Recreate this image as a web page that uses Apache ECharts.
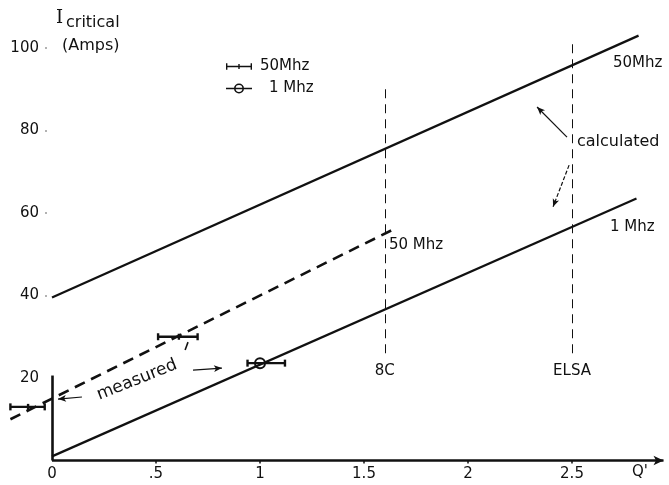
<!DOCTYPE html>
<html><head><meta charset="utf-8">
<script src="https://cdn.jsdelivr.net/npm/echarts@6/dist/echarts.min.js"></script>
<style>html,body{margin:0;padding:0;background:#fff}#c{width:669px;height:485px}</style>
</head><body><div id="c"></div>
<script>
// ---- data ----
const xTicks = [0, 0.5, 1, 1.5, 2, 2.5];
const xTickLabels = ['0', '.5', '1', '1.5', '2', '2.5'];
const yTicks = [20, 40, 60, 80, 100];
const yTickLabels = ['20', '40', '60', '80', '100'];
const seriesNames = ['50Mhz', '1 Mhz'];
const calc50Line = [[0, 39.5], [2.82, 103]];
const calc1Line = [[0, 1], [2.81, 63.5]];
const meas50Line = [[-0.2, 10], [1.64, 56]];
// measured points: [Q', I, Q' low, Q' high]
const meas50Points = [[-0.115, 13, -0.2, -0.035], [0.61, 30, 0.51, 0.70]];
const meas1Points = [[1.0, 23.6, 0.94, 1.12]];
const machines = ['8C', 'ELSA'];
const machineQ = [1.6, 2.5];
const machineTop = [90, 101.5];
const machineBottom = 26;
const calcArrows = [[[2.476, 78.4], [2.332, 85.7]], [[2.486, 71.6], [2.409, 61.5]]];
const measArrows = [[[0.144, 15.4], [0.029, 14.9]], [[0.64, 26.8], [0.654, 28.7]], [[0.678, 21.9], [0.817, 22.4]]];

// ---- chart ----
const INK = '#111';
const FONT = '"DejaVu Sans"';
const chart = echarts.init(document.getElementById('c'), null, {renderer: 'canvas'});

function errRender(withCircle) {
  return function (params, api) {
    const c = api.coord([api.value(0), api.value(1)]);
    const lo = api.coord([api.value(2), api.value(1)]);
    const hi = api.coord([api.value(3), api.value(1)]);
    const st = {stroke: INK, lineWidth: 2.4, fill: null};
    const ch = [
      {type: 'line', shape: {x1: lo[0], y1: c[1], x2: hi[0], y2: c[1]}, style: st},
      {type: 'line', shape: {x1: lo[0], y1: c[1] - 3.5, x2: lo[0], y2: c[1] + 3.5}, style: st},
      {type: 'line', shape: {x1: hi[0], y1: c[1] - 3.5, x2: hi[0], y2: c[1] + 3.5}, style: st}
    ];
    if (withCircle) ch.push({type: 'circle', shape: {cx: c[0], cy: c[1], r: 5}, style: {stroke: INK, lineWidth: 2, fill: 'none'}});
    else ch.push({type: 'line', shape: {x1: c[0], y1: c[1] - 3, x2: c[0], y2: c[1] + 3}, style: st});
    return {type: 'group', children: ch};
  };
}

const icon50 = 'path://M0,0Z M0,4.3H26V5.7H0Z M0,1.8H1.4V8.2H0Z M12.3,2.4H13.7V7.6H12.3Z M24.6,1.8H26V8.2H24.6Z M26,10Z';
const icon1 = 'path://M0,0Z M0,4.3H26V5.7H0Z M18,5A5,5,0,1,1,8,5A5,5,0,1,1,18,5Z M16.4,5A3.4,3.4,0,1,0,9.6,5A3.4,3.4,0,1,0,16.4,5Z M26,10Z';

function txt(x, y, text, size, extra) {
  return Object.assign({
    type: 'text', x: x, y: y, silent: true,
    style: {text: text, fill: INK, font: size + 'px ' + FONT, textVerticalAlign: 'middle', textAlign: 'left'}
  }, extra || {});
}

const option = {
  animation: false,
  backgroundColor: '#fff',
  grid: {left: 0, right: 3.4, top: 6.75, bottom: 24.5, containLabel: false},
  xAxis: {
    type: 'value', min: -0.25, max: 2.95,
    axisLine: {show: false},
    splitLine: {show: false},
    axisTick: {show: true, length: 3, customValues: xTicks.slice(1), lineStyle: {color: INK, width: 1.5}},
    axisLabel: {
      customValues: xTicks, margin: 6, color: INK, fontSize: 15, fontFamily: FONT,
      formatter: v => { const i = xTicks.findIndex(t => Math.abs(t - v) < 1e-6); return i < 0 ? '' : xTickLabels[i]; }
    }
  },
  yAxis: {
    type: 'value', min: 0, max: 110, offset: -47,
    axisLine: {show: false, onZero: false},
    splitLine: {show: false},
    axisTick: {show: true, length: 2, customValues: yTicks.slice(1), lineStyle: {color: '#999', width: 1.5}},
    axisLabel: {
      customValues: yTicks, margin: 8, color: INK, fontSize: 15, fontFamily: FONT,
      formatter: v => { const i = yTicks.indexOf(v); return i < 0 ? '' : yTickLabels[i]; }
    }
  },
  legend: {
    show: true, orient: 'vertical', left: 226, top: 59, padding: 0,
    itemWidth: 26, itemHeight: 10, itemGap: 7,
    data: [{name: seriesNames[0], icon: icon50}, {name: seriesNames[1], icon: icon1}],
    formatter: n => n === seriesNames[0] ? '{a|}' + n : '{b|}' + n,
    textStyle: {color: INK, fontSize: 15, fontFamily: FONT, rich: {a: {width: 3}, b: {width: 12}}},
    selectedMode: false
  },
  series: [
    {name: 'calc50', type: 'line', data: calc50Line, symbol: 'none', lineStyle: {color: INK, width: 2.2}, silent: true},
    {name: 'calc1', type: 'line', data: calc1Line, symbol: 'none', lineStyle: {color: INK, width: 2.2}, silent: true},
    {name: 'meas50', type: 'line', data: meas50Line, symbol: 'none', lineStyle: {color: INK, width: 2.6, type: [11, 7]}, silent: true},
    {name: seriesNames[0], type: 'custom', data: meas50Points, renderItem: errRender(false), itemStyle: {color: INK}, clip: false},
    {name: seriesNames[1], type: 'custom', data: meas1Points, renderItem: errRender(true), itemStyle: {color: INK}, clip: false},
    {
      name: 'axes', type: 'line', data: [], silent: true,
      markLine: {
        silent: true, animation: false, symbol: ['none', 'none'],
        label: {show: false},
        lineStyle: {color: INK, width: 2.6, type: 'solid'},
        data: [
          [{coord: [0, 0]}, {coord: [2.94, 0], symbol: 'arrow', symbolSize: [7, 10]}],
          [{coord: [0, 0]}, {coord: [0, 20.6]}]
        ]
      }
    },
    {
      name: 'machines', type: 'line', data: [], silent: true,
      markLine: {
        silent: true, animation: false, symbol: ['none', 'none'],
        lineStyle: {color: INK, width: 1, type: [9, 6]},
        label: {show: true, position: 'start', distance: 10, color: INK, fontSize: 15, fontFamily: FONT, formatter: p => p.name},
        data: machines.map((m, i) => [{name: m, coord: [machineQ[i], machineBottom]}, {coord: [machineQ[i], machineTop[i]]}])
      }
    },
    {
      name: 'arrows', type: 'line', data: [], silent: true,
      markLine: {
        silent: true, animation: false, symbol: ['none', 'arrow'], symbolSize: [5, 8],
        label: {show: false},
        lineStyle: {color: INK, width: 1.2, type: 'solid'},
        data: [
          [{coord: calcArrows[0][0]}, {coord: calcArrows[0][1]}],
          [{coord: calcArrows[1][0], lineStyle: {type: [4, 2]}}, {coord: calcArrows[1][1]}],
          [{coord: measArrows[0][0]}, {coord: measArrows[0][1]}],
          [{coord: measArrows[1][0], lineStyle: {width: 1.6}}, {coord: measArrows[1][1], symbol: 'none'}],
          [{coord: measArrows[2][0]}, {coord: measArrows[2][1]}]
        ]
      }
    }
  ],
  graphic: [
    txt(56, 18, 'I', 18, {style: {text: 'I', fill: INK, font: '18px "DejaVu Serif"', textVerticalAlign: 'middle'}}),
    txt(66, 23, 'critical', 16),
    txt(62, 46, '(Amps)', 16),
    txt(613, 63, '50Mhz', 15),
    txt(577, 142, 'calculated', 16),
    txt(610, 227, '1 Mhz', 15),
    txt(389, 245, '50 Mhz', 15),
    txt(632, 472, "Q'", 15),
    {type: 'text', x: 137, y: 380, rotation: 0.38, silent: true,
     style: {text: 'measured', fill: INK, font: '17px ' + FONT, textAlign: 'center', textVerticalAlign: 'middle'}}
  ]
};
chart.setOption(option);
</script>
</body></html>
